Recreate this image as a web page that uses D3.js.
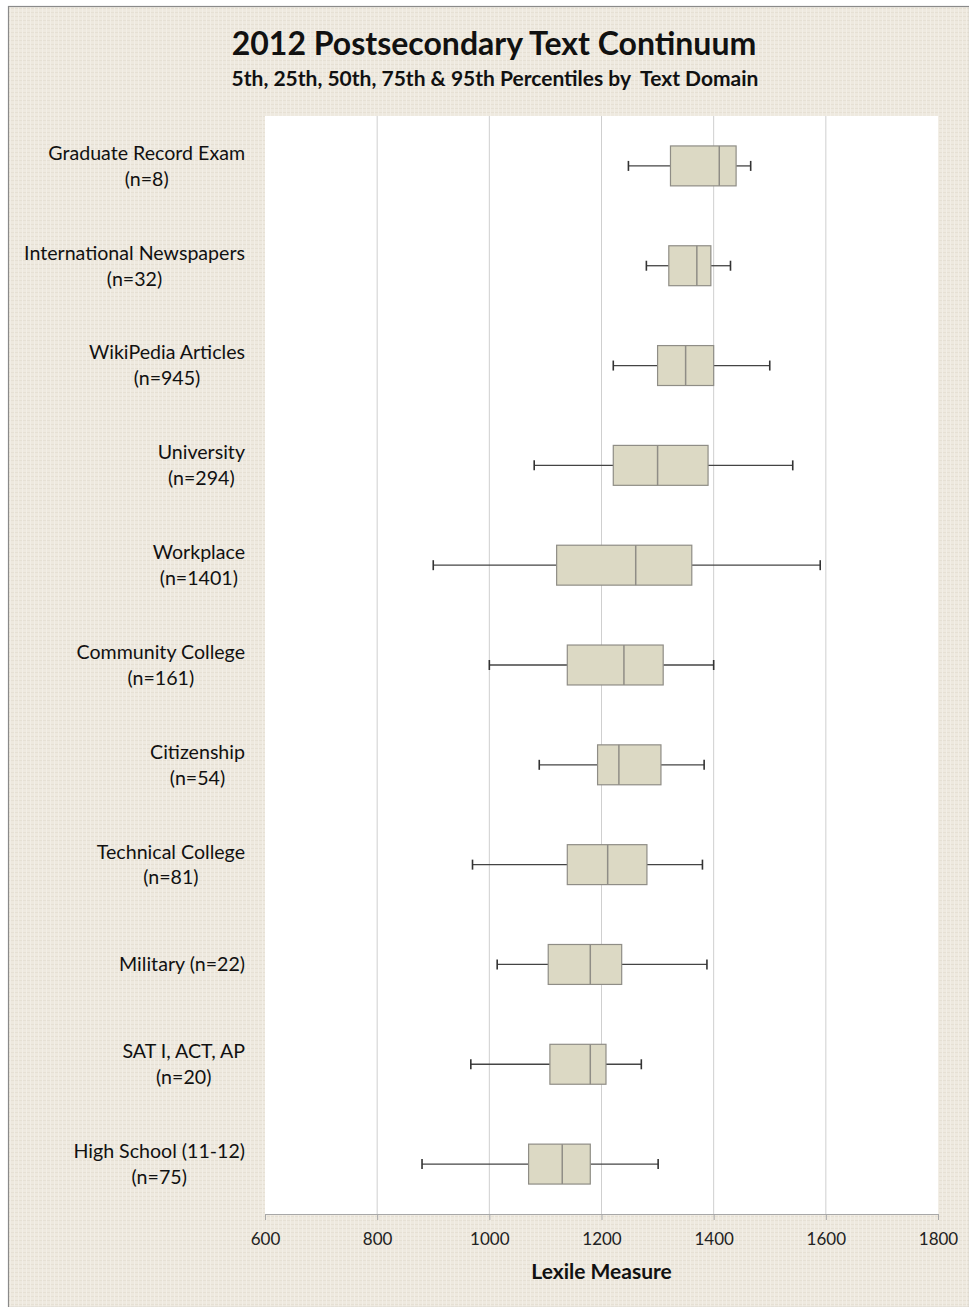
<!DOCTYPE html>
<html><head><meta charset="utf-8">
<script src="https://cdn.jsdelivr.net/npm/d3@7"></script>
<style>html,body{margin:0;padding:0;background:#fff;}svg{display:block;}text{white-space:pre;}</style>
</head><body>
<script>
const categories = ["Graduate Record Exam","International Newspapers","WikiPedia Articles","University","Workplace","Community College","Citizenship","Technical College","Military (n=22)","SAT I, ACT, AP","High School (11-12)"];
const counts = ["(n=8)","(n=32)","(n=945)","(n=294)","(n=1401)","(n=161)","(n=54)","(n=81)","","(n=20)","(n=75)"];
const p5  = [1248,1280,1221,1080, 900,1000,1089, 970,1014, 967, 880];
const p25 = [1323,1320,1300,1221,1120,1139,1193,1139,1105,1108,1070];
const p50 = [1410,1370,1350,1300,1261,1240,1231,1211,1180,1180,1130];
const p75 = [1440,1395,1400,1390,1361,1310,1306,1281,1236,1208,1180];
const p95 = [1466,1430,1500,1541,1590,1400,1383,1380,1388,1271,1301];
const xTicks = [600,800,1000,1200,1400,1600,1800];
const title = "2012 Postsecondary Text Continuum";
const subtitle = "5th, 25th, 50th, 75th & 95th Percentiles by  Text Domain";
const xTitle = "Lexile Measure";

const W = 969, H = 1307;
const svg = d3.select("body").append("svg").attr("width", W).attr("height", H);
const font = "Lato, 'Open Sans', sans-serif";

// textured background
const defs = svg.append("defs");
const pat = defs.append("pattern").attr("id","linen").attr("width",4).attr("height",4).attr("patternUnits","userSpaceOnUse");
pat.append("rect").attr("width",4).attr("height",4).attr("fill","#eee9df");
pat.append("path").attr("d","M0,0.5H4").attr("stroke","#e6e0d4").attr("stroke-width",1);
pat.append("path").attr("d","M2.5,0V4").attr("stroke","#f2eee6").attr("stroke-width",1);
svg.append("rect").attr("x",0).attr("y",0).attr("width",W).attr("height",H).attr("fill","#fff");
svg.append("rect").attr("x",8.5).attr("y",6.5).attr("width",W-8).attr("height",H-6).attr("fill","url(#linen)").attr("stroke","#8a8a8a").attr("stroke-width",1.2);

const m = {left:265, right:938, top:116, bottom:1214};
const x = d3.scaleLinear().domain([600,1800]).range([m.left, m.right]);
const y = d3.scaleBand().domain(categories).range([m.top, m.bottom]).paddingInner(0.6).paddingOuter(0.3);

svg.append("rect").attr("x",m.left).attr("y",m.top).attr("width",m.right-m.left).attr("height",m.bottom-m.top).attr("fill","#fff");

// gridlines
svg.append("g").selectAll("line").data(xTicks.slice(1,-1)).join("line")
  .attr("x1",d=>x(d)).attr("x2",d=>x(d)).attr("y1",m.top).attr("y2",m.bottom)
  .attr("stroke","#cfcfcf").attr("stroke-width",1);

// x axis
const xAxis = svg.append("g").attr("transform",`translate(0,${m.bottom})`)
  .call(d3.axisBottom(x).tickValues(xTicks).tickSize(6).tickPadding(13).tickFormat(d3.format("d")));
xAxis.select(".domain").attr("stroke","#a8a8a8");
xAxis.selectAll(".tick line").attr("stroke","#a8a8a8");
xAxis.selectAll("text").attr("font-family",font).attr("font-size",17).attr("fill","#222");

// boxes
const data = categories.map((c,i)=>({c, n:counts[i], p5:p5[i], p25:p25[i], p50:p50[i], p75:p75[i], p95:p95[i]}));
const g = svg.append("g").selectAll("g").data(data).join("g")
  .attr("transform",d=>`translate(0,${y(d.c)})`);
const bh = y.bandwidth(), cy = bh/2;
g.append("line").attr("x1",d=>x(d.p5)).attr("x2",d=>x(d.p25)).attr("y1",cy).attr("y2",cy).attr("stroke","#444").attr("stroke-width",1.3);
g.append("line").attr("x1",d=>x(d.p75)).attr("x2",d=>x(d.p95)).attr("y1",cy).attr("y2",cy).attr("stroke","#444").attr("stroke-width",1.3);
g.append("line").attr("x1",d=>x(d.p5)).attr("x2",d=>x(d.p5)).attr("y1",cy-5).attr("y2",cy+5).attr("stroke","#333").attr("stroke-width",1.6);
g.append("line").attr("x1",d=>x(d.p95)).attr("x2",d=>x(d.p95)).attr("y1",cy-5).attr("y2",cy+5).attr("stroke","#333").attr("stroke-width",1.6);
g.append("rect").attr("x",d=>x(d.p25)).attr("width",d=>x(d.p75)-x(d.p25)).attr("y",0).attr("height",bh)
  .attr("fill","#dcd9c4").attr("stroke","#8f8d86").attr("stroke-width",1.2);
g.append("line").attr("x1",d=>x(d.p50)).attr("x2",d=>x(d.p50)).attr("y1",0).attr("y2",bh).attr("stroke","#8f8d86").attr("stroke-width",1.5);

// category labels: block right-aligned at x=245, lines centered within block
const lab = svg.append("g").selectAll("g").data(data).join("g")
  .attr("transform",d=>`translate(0,${y(d.c)+cy})`);
lab.each(function(d){
  const sel = d3.select(this);
  const lines = d.n ? [d.c, d.n] : [d.c];
  const ts = lines.map((t,k)=> sel.append("text").text(t).attr("font-family",font).attr("font-size",19.6).attr("fill","#111")
      .attr("text-anchor","middle").attr("y", (k - (lines.length-1)/2)*26).attr("dy","0.35em"));
  const wmax = d3.max(ts, t=>t.node().getComputedTextLength());
  ts.forEach(t=>t.attr("x", 245 - wmax/2));
});

// titles
svg.append("text").attr("x",494).attr("y",44).attr("dy","0.35em").attr("text-anchor","middle")
  .attr("font-family",font).attr("font-weight","bold").attr("font-size",32).attr("fill","#111").text(title);
svg.append("text").attr("x",495).attr("y",79).attr("dy","0.35em").attr("text-anchor","middle")
  .attr("font-family",font).attr("font-weight","bold").attr("font-size",21).attr("fill","#111").text(subtitle);
svg.append("text").attr("x",(m.left+m.right)/2).attr("y",1272).attr("dy","0.35em").attr("text-anchor","middle")
  .attr("font-family",font).attr("font-weight","bold").attr("font-size",21).attr("fill","#111").text(xTitle);
</script>
</body></html>
